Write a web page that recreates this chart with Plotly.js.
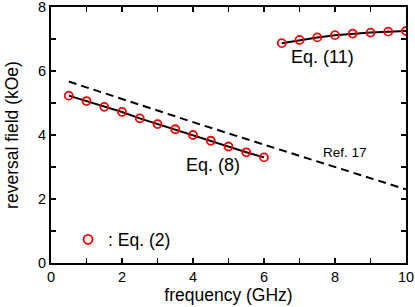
<!DOCTYPE html>
<html><head><meta charset="utf-8">
<script src="https://cdn.plot.ly/plotly-3.0.1.min.js"></script>
<style>html,body{margin:0;padding:0;background:#fff}</style>
</head><body><div id="chart" style="width:415px;height:307px"></div>
<script>
const eq8X = [0.5,1,1.5,2,2.5,3,3.5,4,4.5,5,5.5,6];
const eq8Y = [5.23,5.06,4.88,4.72,4.52,4.34,4.18,4.00,3.82,3.64,3.46,3.30];
const eq11X = [6.5,7,7.5,8,8.5,9,9.5,10];
const eq11Y = [6.87,6.97,7.05,7.12,7.17,7.20,7.23,7.25];
const refX = [0.5,4.2,7,10];
const refY = [5.67,4.33,3.35,2.3];

const font = 'Liberation Sans, Arial, sans-serif';
const mk = {symbol:'circle-open', size:8, color:'#ff0000', line:{width:1.8, color:'#ff0000'}};
const traces = [
  {x:refX, y:refY, mode:'lines', line:{color:'#000', width:2, dash:'8px,5px'}, showlegend:false},
  {x:eq8X, y:eq8Y, mode:'lines+markers', line:{color:'#000', width:2}, marker:mk, showlegend:false},
  {x:eq11X, y:eq11Y, mode:'lines+markers', line:{color:'#000', width:2}, marker:mk, showlegend:false},
  {x:[null], y:[null], mode:'markers', marker:Object.assign({}, mk, {size:9}), name:': Eq. (2)', showlegend:true}
];
const axisCommon = {ticks:'inside', ticklen:5, tickwidth:1.5, tickcolor:'#000', showline:true, linecolor:'#000', linewidth:2,
  mirror:'ticks', showgrid:false, zeroline:false, ticklabeloverflow:'allow',
  tickfont:{family:font, size:14.5, color:'#000'},
  minor:{dtick:1, ticks:'inside', ticklen:5, tickwidth:1.5, tickcolor:'#000', showgrid:false}};
const layout = {
  width:415, height:307, margin:{l:51, r:9, t:7, b:44},
  paper_bgcolor:'#fff', plot_bgcolor:'#fff',
  font:{family:font, color:'#000'},
  xaxis:Object.assign({}, axisCommon, {range:[0,10], dtick:2, tick0:0,
    title:{text:'frequency (GHz)', font:{family:font, size:17.5, color:'#000'}, standoff:4}}),
  yaxis:Object.assign({}, axisCommon, {range:[0,8], dtick:2, tick0:0,
    title:{text:'reversal field (kOe)', font:{family:font, size:17.5, color:'#000'}, standoff:15}}),
  legend:{x:0.048, y:0.092, xanchor:'left', yanchor:'middle', bgcolor:'rgba(0,0,0,0)', font:{family:font, size:17.5, color:'#000'}},
  annotations:[
    {x:7.66, y:6.44, xref:'x', yref:'y', text:'Eq. (11)', showarrow:false, font:{family:font, size:18, color:'#000'}},
    {x:4.56, y:3.06, xref:'x', yref:'y', text:'Eq. (8)', showarrow:false, font:{family:font, size:18, color:'#000'}},
    {x:8.28, y:3.44, xref:'x', yref:'y', text:'Ref. 17', showarrow:false, font:{family:font, size:13.5, color:'#000'}}
  ]
};
Plotly.newPlot('chart', traces, layout, {displayModeBar:false, staticPlot:true});
</script></body></html>
